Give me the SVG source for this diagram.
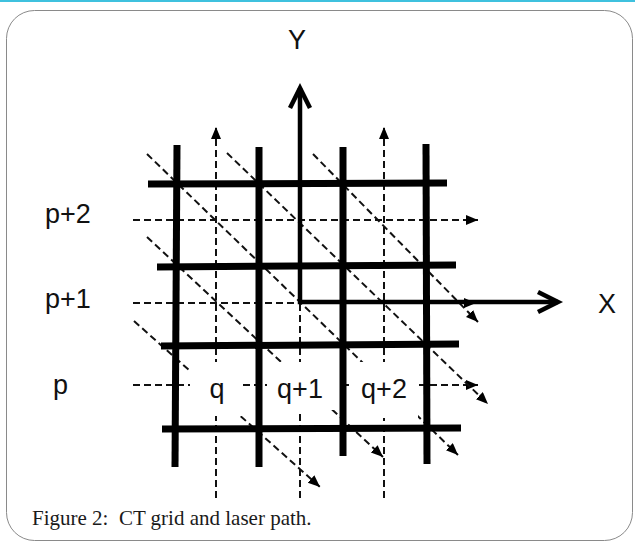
<svg xmlns="http://www.w3.org/2000/svg" width="635" height="543" viewBox="0 0 635 543">
  <style>
    .ray { fill: none; stroke: #111; stroke-width: 2; stroke-dasharray: 7 4; }
    .grid { stroke: #000; stroke-width: 7; stroke-linecap: butt; }
    .axis { fill: none; stroke: #000; stroke-width: 4.5; stroke-linejoin: miter; }
    .lbl { font-family: "Liberation Sans", Arial, sans-serif; font-size: 27px; fill: #111; }
    .cap { font-family: "Liberation Serif", "Times New Roman", serif; font-size: 21px; fill: #1a1a1a; }
    .box { fill: #fff; }
  </style>
  <defs>
    <marker id="ah" markerUnits="userSpaceOnUse" markerWidth="14" markerHeight="12" refX="12" refY="5" orient="auto">
      <path d="M0,0 L12,5 L0,10 z" fill="#000"/>
    </marker>
  </defs>

  <rect x="0" y="0" width="635" height="2" fill="#3fc1de"/>
  <rect id="frame" x="6.5" y="10.5" width="626" height="530" rx="28" ry="28" fill="none" stroke="#8a8a8a" stroke-width="1"/>

  <g id="connectors">
    <!-- horizontal rays -->
    <line class="ray" x1="133" y1="220" x2="478" y2="220" marker-end="url(#ah)"/>
    <line class="ray" x1="133" y1="303" x2="476" y2="303" marker-end="url(#ah)"/>
    <line class="ray" x1="133" y1="385" x2="478" y2="385" marker-end="url(#ah)"/>
    <!-- vertical rays -->
    <line class="ray" x1="216" y1="498" x2="216" y2="127" marker-end="url(#ah)"/>
    <line class="ray" x1="300" y1="498" x2="300" y2="140"/>
    <line class="ray" x1="384" y1="498" x2="384" y2="127" marker-end="url(#ah)"/>
    <!-- diagonal laser paths -->
    <line class="ray" x1="134" y1="321" x2="320" y2="487" marker-end="url(#ah)"/>
    <line class="ray" x1="147" y1="237" x2="383" y2="457" marker-end="url(#ah)"/>
    <line class="ray" x1="147" y1="154" x2="458" y2="455" marker-end="url(#ah)"/>
    <line class="ray" x1="227" y1="153" x2="488" y2="404" marker-end="url(#ah)"/>
    <line class="ray" x1="313" y1="154" x2="478" y2="322" marker-end="url(#ah)"/>
  </g>

  <g id="label-boxes">
    <rect class="box" x="190" y="362" width="53" height="54"/>
    <rect class="box" x="267" y="362" width="73" height="48"/>
    <rect class="box" x="350" y="362" width="68" height="56"/>
  </g>

  <g id="grid">
    <line class="grid" x1="177" y1="145" x2="175" y2="467"/>
    <line class="grid" x1="259" y1="147" x2="259" y2="467"/>
    <line class="grid" x1="343" y1="147" x2="343" y2="456"/>
    <line class="grid" x1="426" y1="144" x2="427" y2="464"/>
    <line class="grid" x1="148" y1="184" x2="447" y2="183"/>
    <line class="grid" x1="157" y1="267" x2="456" y2="265"/>
    <line class="grid" x1="161" y1="346" x2="459" y2="344"/>
    <line class="grid" x1="162" y1="429" x2="461" y2="428"/>
  </g>

  <g id="axes">
    <path class="axis" d="M300,88 V302 H558"/>
    <polyline class="axis" points="290,108 300,88 310,108"/>
    <polyline class="axis" points="538,292 558,302 538,312"/>
  </g>

  <g id="label-Y"><text class="lbl" x="297" y="49" text-anchor="middle">Y</text></g>
  <g id="label-X"><text class="lbl" x="607" y="313" text-anchor="middle">X</text></g>
  <g id="label-p2"><text class="lbl" x="45" y="223">p+2</text></g>
  <g id="label-p1"><text class="lbl" x="45" y="308">p+1</text></g>
  <g id="label-p"><text class="lbl" x="53" y="394">p</text></g>
  <g id="label-q"><text class="lbl" x="217" y="398" text-anchor="middle">q</text></g>
  <g id="label-q1"><text class="lbl" x="300" y="398" text-anchor="middle">q+1</text></g>
  <g id="label-q2"><text class="lbl" x="384" y="398" text-anchor="middle">q+2</text></g>

  <g id="caption"><text class="cap" x="32" y="525" xml:space="preserve">Figure 2:  CT grid and laser path.</text></g>
</svg>
